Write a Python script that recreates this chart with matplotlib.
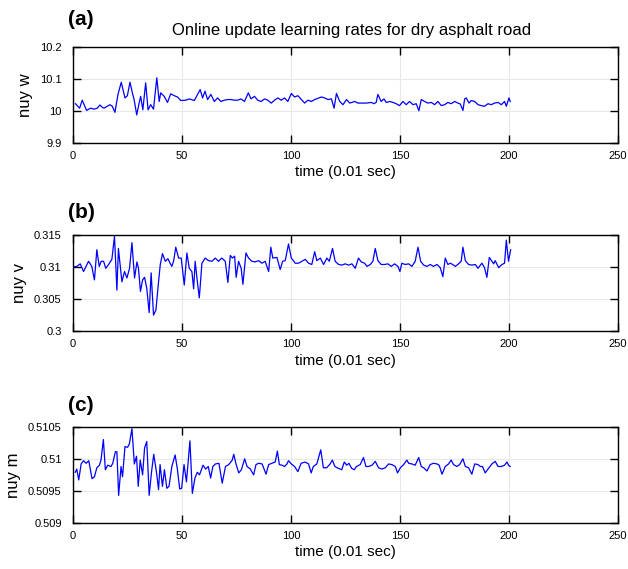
import numpy as np
import matplotlib
matplotlib.use('Agg')
import matplotlib.pyplot as plt

plt.rcParams['font.family'] = ['Liberation Sans', 'DejaVu Sans']

# (a) nuy w
t_w = [1.2, 3.1, 4.3, 6.3, 8.1, 9.7, 11.2, 12.4, 13.5, 14.3, 15.8, 17.0, 18.1, 19.3, 20.7, 22.2, 23.9, 25.0,
       26.2, 27.3, 28.1, 29.3, 30.4, 31.1, 32.1, 33.4, 34.5, 35.7, 37.0, 38.5, 39.6, 40.3, 41.9, 43.4, 44.9,
       46.5, 48.0, 49.5, 51.8, 53.4, 55.7, 57.2, 58.4, 59.5, 60.6, 61.8, 63.3, 64.9, 66.4, 67.9, 69.5, 71.0,
       72.5, 74.1, 75.6, 77.1, 78.7, 80.5, 81.7, 83.3, 84.8, 86.3, 87.9, 89.4, 91.0, 92.5, 94.0, 95.6, 97.1,
       98.6, 100.2, 101.7, 103.2, 104.8, 106.3, 107.8, 109.4, 110.9, 112.4, 114.0, 115.5, 117.0, 118.6, 119.8,
       120.9, 122.4, 123.9, 125.5, 127.0, 129.3, 130.8, 133.0, 134.6, 136.9, 138.1, 139.1, 139.9, 141.4, 142.7,
       143.7, 145.3, 146.8, 148.3, 149.8, 151.4, 152.9, 154.4, 156.0, 157.5, 158.7, 159.8, 161.3, 162.8, 164.4,
       165.9, 167.4, 169.0, 170.5, 172.0, 173.5, 175.1, 176.6, 177.7, 178.9, 179.7, 180.4, 181.7, 182.7, 184.3,
       185.8, 187.3, 188.8, 190.4, 191.9, 193.4, 195.0, 196.5, 198.0, 198.8, 200.0, 200.6]
nuy_w = [10.022, 10.008, 10.033, 10.001, 10.008, 10.005, 10.008, 10.018, 10.011, 10.008, 10.014, 10.019, 10.014,
         9.995, 10.051, 10.089, 10.040, 10.047, 10.089, 10.056, 10.035, 9.987, 10.024, 10.045, 10.003, 10.087,
         10.003, 10.019, 10.005, 10.103, 10.029, 10.056, 10.045, 10.026, 10.053, 10.047, 10.043, 10.032, 10.033,
         10.037, 10.032, 10.051, 10.066, 10.040, 10.061, 10.035, 10.051, 10.029, 10.040, 10.029, 10.033, 10.035,
         10.035, 10.033, 10.033, 10.037, 10.029, 10.056, 10.037, 10.045, 10.033, 10.029, 10.037, 10.033, 10.024,
         10.033, 10.040, 10.033, 10.040, 10.029, 10.054, 10.043, 10.047, 10.035, 10.024, 10.033, 10.029, 10.035,
         10.039, 10.043, 10.040, 10.035, 10.037, 10.008, 10.054, 10.029, 10.019, 10.035, 10.024, 10.029, 10.024,
         10.024, 10.024, 10.026, 10.022, 10.026, 10.051, 10.029, 10.037, 10.026, 10.029, 10.026, 10.022, 10.016,
         10.029, 10.019, 10.029, 10.019, 10.022, 10.000, 10.035, 10.029, 10.024, 10.026, 10.019, 10.029, 10.016,
         10.019, 10.026, 10.022, 10.029, 10.024, 10.021, 10.001, 10.037, 10.040, 10.024, 10.032, 10.029, 10.019,
         10.016, 10.014, 10.022, 10.019, 10.024, 10.026, 10.019, 10.029, 10.014, 10.040, 10.029]

# (b) nuy v
t_v = [0.0, 1.8, 3.4, 4.9, 7.2, 8.7, 9.9, 11.0, 12.1, 13.0, 14.1, 15.1, 16.4, 17.9, 19.1, 20.2, 20.9, 22.5, 23.7,
       24.8, 26.0, 27.1, 28.3, 29.4, 30.1, 31.0, 32.0, 32.9, 33.9, 35.0, 35.9, 37.0, 38.1, 39.3, 40.1, 41.1,
       42.4, 43.6, 44.6, 45.4, 46.2, 47.2, 48.5, 49.7, 51.1, 52.3, 53.4, 54.6, 55.4, 56.1, 57.0, 58.0, 59.2,
       60.7, 62.2, 63.8, 65.3, 66.8, 68.3, 69.9, 71.1, 72.2, 73.2, 74.2, 74.9, 76.0, 77.2, 78.0, 79.4, 80.6,
       82.1, 83.6, 85.2, 86.7, 88.2, 89.8, 90.8, 91.7, 93.6, 95.1, 96.2, 97.4, 98.9, 100.2, 102.0, 103.5, 105.0,
       106.6, 108.1, 109.6, 110.9, 111.9, 113.5, 115.0, 116.5, 117.6, 119.1, 120.3, 121.9, 123.4, 124.9, 126.5,
       128.0, 129.5, 131.0, 132.3, 133.8, 134.9, 136.4, 137.6, 138.7, 139.9, 141.4, 143.0, 144.5, 146.0, 147.6,
       149.1, 150.0, 150.9, 152.4, 154.0, 155.5, 157.0, 158.3, 159.5, 160.9, 162.4, 163.9, 165.4, 167.0, 168.5,
       169.7, 170.8, 172.0, 173.1, 174.2, 175.4, 176.9, 178.1, 178.9, 180.0, 181.5, 183.0, 184.6, 185.8, 187.6,
       188.8, 189.9, 191.0, 192.2, 193.0, 193.7, 195.3, 196.8, 198.0, 198.8, 199.8, 200.8]
nuy_v = [0.3100, 0.3101, 0.3105, 0.3093, 0.3109, 0.3101, 0.3080, 0.3127, 0.3101, 0.3109, 0.3109, 0.3098, 0.3104,
         0.3112, 0.3148, 0.3064, 0.3129, 0.3077, 0.3093, 0.3083, 0.3098, 0.3138, 0.3083, 0.3108, 0.3098, 0.3062,
         0.3080, 0.3084, 0.3067, 0.3029, 0.3091, 0.3025, 0.3033, 0.3077, 0.3104, 0.3121, 0.3109, 0.3113, 0.3106,
         0.3101, 0.3109, 0.3131, 0.3114, 0.3114, 0.3072, 0.3122, 0.3098, 0.3093, 0.3066, 0.3109, 0.3080, 0.3052,
         0.3106, 0.3114, 0.3110, 0.3109, 0.3114, 0.3109, 0.3114, 0.3109, 0.3076, 0.3118, 0.3114, 0.3117, 0.3084,
         0.3109, 0.3098, 0.3073, 0.3122, 0.3114, 0.3109, 0.3108, 0.3110, 0.3106, 0.3109, 0.3093, 0.3131, 0.3114,
         0.3115, 0.3096, 0.3109, 0.3110, 0.3136, 0.3114, 0.3106, 0.3106, 0.3109, 0.3112, 0.3106, 0.3104, 0.3124,
         0.3110, 0.3114, 0.3104, 0.3114, 0.3109, 0.3129, 0.3109, 0.3104, 0.3103, 0.3105, 0.3103, 0.3105, 0.3098,
         0.3114, 0.3108, 0.3106, 0.3101, 0.3104, 0.3109, 0.3129, 0.3110, 0.3104, 0.3104, 0.3105, 0.3101, 0.3105,
         0.3101, 0.3093, 0.3106, 0.3104, 0.3105, 0.3101, 0.3109, 0.3131, 0.3109, 0.3103, 0.3101, 0.3104, 0.3101,
         0.3104, 0.3099, 0.3085, 0.3114, 0.3104, 0.3106, 0.3104, 0.3101, 0.3105, 0.3109, 0.3131, 0.3110, 0.3104,
         0.3103, 0.3104, 0.3098, 0.3106, 0.3099, 0.3084, 0.3115, 0.3109, 0.3105, 0.3110, 0.3099, 0.3104, 0.3106,
         0.3142, 0.3109, 0.3127]

# (c) nuy m
t_m = [1.1, 1.8, 2.7, 3.8, 4.9, 6.1, 7.3, 8.8, 9.9, 11.0, 12.2, 12.9, 14.0, 14.9, 16.0, 17.5, 18.3, 19.5, 20.2,
       21.0, 22.1, 22.8, 23.9, 25.1, 25.9, 27.1, 28.2, 29.2, 30.0, 30.9, 32.0, 32.9, 33.9, 35.0, 36.1, 37.1,
       38.4, 39.3, 40.0, 41.1, 42.0, 43.1, 44.1, 45.4, 46.9, 47.9, 49.0, 49.9, 51.0, 52.1, 53.7, 54.8, 56.0,
       57.1, 58.1, 59.7, 60.9, 62.1, 63.2, 64.2, 65.4, 67.0, 68.5, 70.0, 71.5, 73.1, 73.8, 74.9, 76.1, 77.3,
       78.8, 79.9, 81.4, 82.9, 84.0, 85.2, 86.8, 88.6, 89.8, 91.3, 92.8, 93.8, 94.7, 95.9, 97.1, 98.2, 98.9,
       100.2, 101.7, 103.2, 104.7, 106.5, 108.1, 109.3, 110.3, 111.9, 113.7, 114.9, 116.4, 118.0, 119.0, 120.2,
       121.8, 123.3, 124.5, 125.6, 126.6, 127.9, 129.1, 130.1, 131.8, 133.3, 134.4, 135.6, 137.2, 138.7, 140.2,
       141.7, 143.3, 144.8, 146.3, 147.9, 148.9, 150.2, 151.7, 153.2, 154.0, 155.5, 157.0, 158.6, 159.8, 160.9,
       162.4, 163.9, 165.4, 167.0, 168.0, 169.3, 170.8, 172.3, 173.5, 174.6, 176.1, 177.4, 178.9, 180.0, 181.5,
       183.0, 184.3, 185.8, 186.9, 187.9, 189.1, 190.4, 192.2, 193.7, 195.0, 196.5, 198.0, 199.1, 199.8, 200.6]
nuy_m = [0.50979, 0.50984, 0.50967, 0.50992, 0.50997, 0.50993, 0.50997, 0.50969, 0.50972, 0.50986, 0.50990,
         0.50998, 0.51030, 0.50983, 0.50990, 0.50988, 0.50993, 0.51011, 0.51011, 0.50943, 0.50988, 0.50972,
         0.51019, 0.51018, 0.51023, 0.51047, 0.50992, 0.51004, 0.50957, 0.50998, 0.50975, 0.51017, 0.51027,
         0.50943, 0.50980, 0.51007, 0.50978, 0.50952, 0.50991, 0.50957, 0.50983, 0.50954, 0.50957, 0.50988,
         0.51006, 0.50985, 0.50953, 0.50954, 0.50991, 0.50964, 0.51028, 0.50946, 0.50970, 0.50979, 0.50975,
         0.50990, 0.50984, 0.50988, 0.50970, 0.50988, 0.50992, 0.50993, 0.50962, 0.50988, 0.50991, 0.50998,
         0.51007, 0.50991, 0.50978, 0.50983, 0.51000, 0.50988, 0.50984, 0.50975, 0.50991, 0.50993, 0.50992,
         0.50976, 0.50991, 0.50993, 0.50995, 0.51012, 0.50991, 0.50990, 0.50988, 0.50992, 0.50997, 0.50992,
         0.50988, 0.50980, 0.50993, 0.50995, 0.50992, 0.50978, 0.50988, 0.50992, 0.51014, 0.50986, 0.50986,
         0.50992, 0.50998, 0.50988, 0.50985, 0.50983, 0.50995, 0.50990, 0.50993, 0.50985, 0.50983, 0.50988,
         0.50991, 0.51002, 0.50988, 0.50988, 0.50990, 0.50996, 0.50986, 0.50984, 0.50986, 0.50992, 0.50991,
         0.50988, 0.50978, 0.50986, 0.50991, 0.50998, 0.50993, 0.50992, 0.50990, 0.51002, 0.50988, 0.50986,
         0.50981, 0.50991, 0.50993, 0.50992, 0.50990, 0.50976, 0.50988, 0.50992, 0.50998, 0.50991, 0.50988,
         0.50991, 0.51000, 0.50988, 0.50986, 0.50976, 0.50992, 0.50991, 0.50988, 0.50988, 0.50978, 0.50984,
         0.50992, 0.50996, 0.50988, 0.50988, 0.50990, 0.50995, 0.50990, 0.50988]

panels = [
    ('(a)', t_w, nuy_w, 'nuy w', (9.9, 10.2), [9.9, 10.0, 10.1, 10.2], ['9.9', '10', '10.1', '10.2']),
    ('(b)', t_v, nuy_v, 'nuy v', (0.3, 0.315), [0.3, 0.305, 0.31, 0.315], ['0.3', '0.305', '0.31', '0.315']),
    ('(c)', t_m, nuy_m, 'nuy m', (0.509, 0.5105), [0.509, 0.5095, 0.51, 0.5105], ['0.509', '0.5095', '0.51', '0.5105']),
]
bottoms = [0.749, 0.418, 0.081]
label_y = [0.965, 0.626, 0.288]

fig = plt.figure(figsize=(6.28, 5.69), dpi=100)

for (tag, t, v, ylab, ylim, yt, ytl), b, ly in zip(panels, bottoms, label_y):
    ax = fig.add_axes([0.116, b, 0.868, 0.169])
    ax.plot(t, v, color='#0000ff', linewidth=0.9)
    ax.set_xlim(0, 250)
    ax.set_ylim(*ylim)
    ax.set_xticks([0, 50, 100, 150, 200, 250])
    ax.set_yticks(yt)
    ax.set_yticklabels(ytl)
    ax.tick_params(direction='in', top=True, right=True, length=6, width=1, labelsize=8)
    ax.tick_params(axis='y', pad=8)
    ax.tick_params(axis='x', pad=6)
    ax.grid(True, color='#e8e8e8', linewidth=0.8)
    ax.set_axisbelow(True)
    for s in ax.spines.values():
        s.set_linewidth(1.0)
    ax.set_xlabel('time (0.01 sec)', fontsize=11, labelpad=3)
    ax.set_ylabel(ylab, fontsize=12, labelpad=5)
    fig.text(0.108, ly, tag, fontsize=15, fontweight='bold', ha='left', va='center')

fig.text(0.56, 0.947, 'Online update learning rates for dry asphalt road',
         fontsize=12, ha='center', va='center')

plt.savefig('out.png', dpi=100)
plt.close()
